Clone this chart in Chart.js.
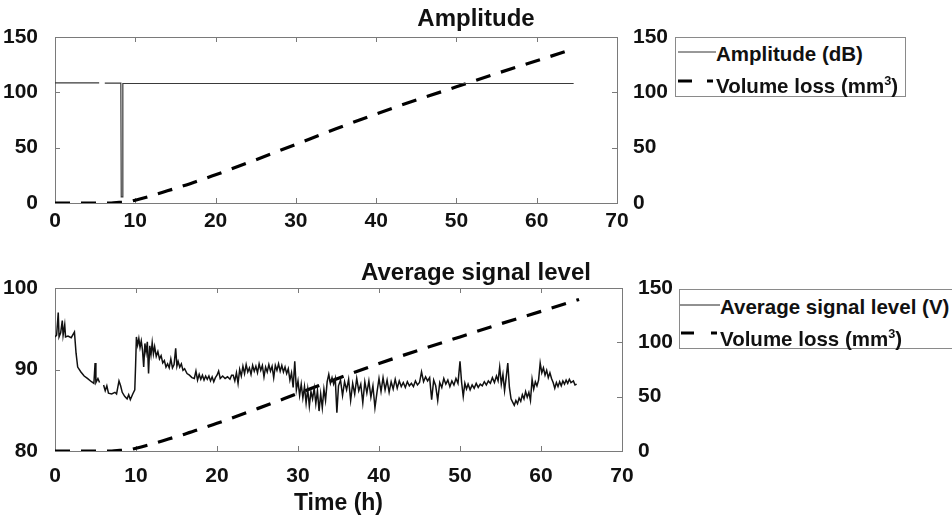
<!DOCTYPE html>
<html>
<head>
<meta charset="utf-8">
<title>Amplitude and average signal level</title>
<script src="https://cdn.jsdelivr.net/npm/chart.js@4.4.0/dist/chart.umd.min.js"></script>
<style>
    body {
        margin: 0;
        width: 952px;
        height: 522px;
        overflow: hidden;
        position: relative;
        background: #fff;
        font-family: 'Liberation Sans', Arial, sans-serif;
    }
    .chart-box {
        position: absolute;
        left: 0;
        width: 952px;
    }
    .legend {
        position: absolute;
        height: 58px;
        border: 1px solid #8a8a8a;
        background: #fff;
        font-weight: bold;
        font-size: 20.5px;
        color: #111;
    }
    .legend .label {
        position: absolute;
        white-space: nowrap;
        line-height: 24px;
    }
    .legend svg {
        position: absolute;
    }
    .legend sup {
        font-size: 0.62em;
        line-height: 0;
        vertical-align: 0.62em;
    }
</style>
</head>
<body>

<div class="chart-box" style="top:0; height:245px;"><canvas id="ampChart"></canvas></div>
<div class="chart-box" style="top:245px; height:277px;"><canvas id="sigChart"></canvas></div>

<div class="legend" style="left:675px; top:37px; width:229px;">
    <svg style="left:2px; top:9px;" width="40" height="10"><line x1="0" y1="5" x2="38" y2="5" stroke="#333" stroke-width="1"/></svg>
    <span class="label" style="left:40px; top:4px;">Amplitude (dB)</span>
    <svg style="left:2px; top:38px;" width="40" height="10"><line x1="0" y1="5" x2="14" y2="5" stroke="#000" stroke-width="3"/><line x1="29" y1="5" x2="35" y2="5" stroke="#000" stroke-width="3"/></svg>
    <span class="label" style="left:40px; top:36px;">Volume loss (mm<sup>3</sup>)</span>
</div>

<div class="legend" style="left:679px; top:289px; width:320px;">
    <svg style="left:0px; top:10px;" width="42" height="10"><line x1="0" y1="5" x2="40" y2="5" stroke="#222" stroke-width="1"/></svg>
    <span class="label" style="left:40px; top:5px;">Average signal level (V)</span>
    <svg style="left:1px; top:38px;" width="42" height="10"><line x1="0" y1="5" x2="13" y2="5" stroke="#000" stroke-width="3"/><line x1="30" y1="5" x2="36" y2="5" stroke="#000" stroke-width="3"/></svg>
    <span class="label" style="left:40px; top:37px;">Volume loss (mm<sup>3</sup>)</span>
</div>

<script>
// Time axis ticks (h)
const timeTicks = [0, 10, 20, 30, 40, 50, 60, 70];

// Amplitude (dB), null = gap in the record
const ampTime  = [0, 5.5, 5.6, 6.2, 8.2, 8.25, 8.4, 8.45, 64.6];
const ampLevel = [108.6, 108.6, null, 108.4, 108.3, 5.5, 5.5, 108.0, 108.0];

// Volume loss (mm3), same curve on both panels
const volTime = [0, 7, 8, 9, 10, 12, 14, 16, 18, 20, 25, 30, 35, 40, 45, 50, 55, 60, 64.7];
const volLoss = [0, 0, 0.5, 1, 2.5, 6.5, 11, 15.5, 20.5, 25.5, 39, 53, 67, 80.5, 93, 105, 117, 128.5, 139.5];

// Average signal level (V)
const sigTime = [
    0.0, 0.2, 0.4, 0.5, 0.7, 0.9, 1.0, 1.2, 1.3, 1.6, 2.0, 2.4, 2.6, 2.8, 3.2, 3.6, 4.0, 4.5, 4.8, 4.95,
    5.05, 5.3, 5.5, 5.7, 6.0, 6.2, 6.4, 6.6, 7.0, 7.4, 7.6, 7.9, 8.1, 8.3, 8.6, 8.9, 9.1, 9.3, 9.6, 9.85,
    9.95, 10.05, 10.2, 10.35, 10.5, 10.65, 10.8, 10.95, 11.1, 11.25, 11.4, 11.55, 11.7, 11.85, 12.0, 12.15, 12.3, 12.5, 12.7, 12.9,
    13.1, 13.3, 13.5, 13.7, 13.9, 14.1, 14.3, 14.5, 14.7, 14.9, 15.05, 15.2, 15.4, 15.6, 15.8, 16.0, 16.3, 16.6, 16.9, 17.2,
    17.4, 17.6, 17.8, 18.0, 18.2, 18.4, 18.6, 18.8, 19.0, 19.2, 19.4, 19.6, 19.8, 20.0, 20.2, 20.4, 20.7, 21.0, 21.3, 21.6,
    21.8, 22.0, 22.2, 22.4, 22.6, 22.8, 23.0, 23.2, 23.4, 23.6, 23.8, 24.0, 24.2, 24.4, 24.6, 24.8, 25.0, 25.2, 25.4, 25.6,
    25.8, 26.0, 26.2, 26.4, 26.6, 26.8, 27.0, 27.2, 27.4, 27.6, 27.8, 28.0, 28.2, 28.4, 28.6, 28.8, 29.0, 29.2, 29.4, 29.6,
    29.8, 30.0, 30.2, 30.4, 30.6, 30.8, 31.0, 31.2, 31.4, 31.6, 31.8, 32.0, 32.2, 32.4, 32.6, 32.8, 33.0, 33.2, 33.4, 33.6,
    33.8, 34.0, 34.2, 34.4, 34.6, 34.8, 35.0, 35.25, 35.5, 35.75, 36.0, 36.25, 36.5, 36.75, 37.0, 37.25, 37.5, 37.75, 38.0, 38.25,
    38.5, 38.75, 39.0, 39.25, 39.5, 39.75, 40.0, 40.25, 40.5, 40.75, 41.0, 41.25, 41.5, 41.75, 42.0, 42.25, 42.5, 42.75, 43.0, 43.25,
    43.5, 43.75, 44.0, 44.25, 44.5, 44.75, 45.0, 45.25, 45.5, 45.75, 46.0, 46.25, 46.5, 46.75, 47.0, 47.25, 47.5, 47.75, 48.0, 48.25,
    48.5, 48.75, 49.0, 49.25, 49.5, 49.75, 50.0, 50.2, 50.4, 50.6, 50.8, 51.0, 51.25, 51.5, 51.75, 52.0, 52.25, 52.5, 52.75, 53.0,
    53.25, 53.5, 53.75, 54.0, 54.25, 54.5, 54.7, 54.9, 55.1, 55.3, 55.5, 55.7, 55.9, 56.1, 56.3, 56.5, 56.7, 56.9, 57.1, 57.3,
    57.5, 57.7, 57.9, 58.1, 58.3, 58.5, 58.7, 58.9, 59.1, 59.3, 59.5, 59.7, 59.9, 60.1, 60.3, 60.5, 60.7, 60.9, 61.1, 61.3,
    61.5, 61.7, 61.9, 62.1, 62.3, 62.5, 62.7, 62.9, 63.1, 63.3, 63.5, 63.7, 64.0, 64.2, 64.4
];
const sigLevel = [
    94.0, 94.2, 97.0, 94.0, 94.5, 96.0, 94.2, 95.5, 94.0, 94.1, 93.9, 94.6, 92.0, 90.3, 89.7, 89.2, 88.9, 88.5, 88.3, 90.8,
    88.4, 88.9, 88.4, null, 88.1, 87.4, 88.0, 87.1, 87.0, 87.2, 87.0, 88.6, 88.0, 87.2, 86.7, 86.4, 86.9, 86.3, 87.0, 87.5,
    90.5, 94.0, 93.0, 93.8, 92.7, 93.5, 92.4, 90.3, 93.2, 92.1, 93.4, 89.5, 92.9, 91.8, 93.3, 91.9, 92.8, 91.6, 92.2, 91.3,
    91.7, 90.8, 91.1, 90.3, 90.7, 90.2, 91.3, 90.2, 90.6, 92.6, 90.4, 91.0, 90.3, 90.7, 89.9, 90.1, 89.5, 89.3, 89.0, 88.9,
    89.8, 88.7, 89.4, 88.8, 89.3, 88.7, 89.2, 88.8, 89.2, 88.6, 89.1, 88.5, 89.0, 89.3, 89.8, 88.9, 89.2, 88.9, 89.1, 88.8,
    89.3, 89.3, 88.6, 89.6, 88.3, 90.0, 89.2, 90.4, 89.5, 90.6, 89.7, 90.2, 89.4, 90.5, 89.8, 90.4, 89.6, 90.7, 89.9, 90.5,
    89.1, 90.3, 89.7, 90.6, 89.8, 90.4, 89.0, 90.5, 89.9, 90.7, 89.8, 90.5, 89.7, 90.3, 89.5, 90.1, 88.7, 89.6, 87.8, 91.0,
    87.5, 88.6, 86.8, 88.2, 86.5, 87.9, 85.9, 87.6, 85.5, 87.3, 86.4, 87.7, 85.8, 87.4, 84.9, 87.0, 85.3, 87.6, 86.2, 88.5,
    89.4, 88.3, 89.0, 88.2, 88.9, 84.7, 88.0, 88.7, 86.8, 88.5, 87.5, 88.8, 86.2, 88.3, 87.0, 88.9, 87.4, 88.2, 85.9, 88.5,
    87.1, 88.6, 86.6, 88.0, 85.3, 87.2, 88.9, 87.3, 89.0, 87.5, 88.7, 87.2, 88.5, 87.6, 88.8, 87.7, 88.6, 87.9, 88.4, 87.8,
    88.5, 88.0, 88.3, 87.9, 88.6, 88.1, 88.4, 89.7, 88.5, 89.1, 88.6, 89.0, 86.3, 88.7, 88.0, 86.2, 88.4, 87.8, 88.9, 88.2,
    88.7, 87.9, 88.6, 88.1, 88.9, 88.3, 91.0, 88.4, 86.7, 88.3, 87.6, 88.2, 87.5, 88.1, 87.7, 88.3, 87.8, 88.2, 88.0, 88.5,
    88.1, 88.6, 88.3, 89.0, 88.4, 89.2, 88.6, 90.3, 88.2, 89.4, 87.4, 89.0, 90.8, 87.8, 86.4, 86.0, 85.6, 86.2, 85.8, 86.5,
    86.1, 86.9, 86.4, 87.3, 86.6, 87.2, 86.2, 88.8, 87.6, 88.5, 88.0, 88.7, 90.8, 89.6, 90.2, 89.3, 89.9, 89.0, 89.6, 88.9,
    88.4, 87.7, 88.4, 87.9, 88.5, 88.0, 88.6, 88.2, 88.7, 88.3, 88.8, 88.4, 88.6, 88.1, 88.2
];

Chart.defaults.font.family = "'Liberation Sans', Arial, sans-serif";
Chart.defaults.font.weight = 700;
Chart.defaults.color = '#111';

// Pair up x and y arrays for a linear x scale
function toPoints(xs, ys) {
    return xs.map((x, i) => ({ x: x, y: ys[i] }));
}

// MATLAB style axes box with ticks pointing inwards
const axesBox = {
    id: 'axesBox',
    beforeDatasetsDraw(chart) {
        const { ctx, chartArea: a, scales } = chart;
        const len = 5;
        ctx.save();
        ctx.strokeStyle = '#7a7a7a';
        ctx.lineWidth = 1;
        ctx.strokeRect(Math.round(a.left) + 0.5, Math.round(a.top) + 0.5,
            Math.round(a.right - a.left), Math.round(a.bottom - a.top));
        ctx.beginPath();
        scales.x.ticks.forEach(t => {
            const px = Math.round(scales.x.getPixelForValue(t.value)) + 0.5;
            ctx.moveTo(px, a.bottom); ctx.lineTo(px, a.bottom - len);
            ctx.moveTo(px, a.top); ctx.lineTo(px, a.top + len);
        });
        scales.y.ticks.forEach(t => {
            const py = Math.round(scales.y.getPixelForValue(t.value)) + 0.5;
            ctx.moveTo(a.left, py); ctx.lineTo(a.left + len, py);
        });
        scales.y2.ticks.forEach(t => {
            const py = Math.round(scales.y2.getPixelForValue(t.value)) + 0.5;
            ctx.moveTo(a.right, py); ctx.lineTo(a.right - len, py);
        });
        ctx.stroke();
        ctx.restore();
    }
};

// Build one panel
function makePanel(canvasId, cfg) {
    const tickFont = () => ({ size: 21, weight: 700, family: "'Liberation Sans', Arial, sans-serif" });
    return new Chart(document.getElementById(canvasId), {
        type: 'line',
        data: {
            datasets: [
                {
                    label: cfg.seriesLabel,
                    data: toPoints(cfg.xs, cfg.ys),
                    yAxisID: 'y',
                    borderColor: cfg.seriesColor,
                    borderWidth: cfg.seriesWidth,
                    pointRadius: 0,
                    tension: 0,
                    spanGaps: false
                },
                {
                    label: 'Volume loss (mm3)',
                    data: toPoints(volTime, volLoss),
                    yAxisID: 'y2',
                    borderColor: '#000',
                    borderWidth: 3.2,
                    borderDash: [15, 11],
                    pointRadius: 0,
                    cubicInterpolationMode: 'monotone'
                }
            ]
        },
        options: {
            responsive: true,
            maintainAspectRatio: false,
            animation: false,
            layout: { padding: 0 },
            plugins: {
                legend: { display: false },
                tooltip: { enabled: false },
                title: {
                    display: true,
                    text: cfg.title,
                    color: '#111',
                    font: { size: 24, weight: 700 },
                    padding: cfg.titlePadding
                }
            },
            scales: {
                x: {
                    type: 'linear',
                    min: 0,
                    max: 70,
                    afterBuildTicks: s => { s.ticks = timeTicks.map(v => ({ value: v })); },
                    grid: { display: false },
                    border: { display: false },
                    ticks: { font: tickFont(), padding: cfg.xTickPad, maxRotation: 0 },
                    title: {
                        display: !!cfg.xTitle,
                        text: cfg.xTitle || '',
                        font: { size: 23, weight: 700 },
                        padding: { top: 0, bottom: 5 }
                    },
                    afterFit: s => { s.height = cfg.xHeight; }
                },
                y: {
                    position: 'left',
                    min: cfg.yMin,
                    max: cfg.yMax,
                    ticks: { stepSize: cfg.yStep, font: tickFont(), padding: 9 },
                    grid: { display: false },
                    border: { display: false },
                    afterFit: s => { s.width = 55; }
                },
                y2: {
                    position: 'right',
                    min: 0,
                    max: 150,
                    ticks: { stepSize: 50, font: tickFont(), padding: 8 },
                    grid: { display: false },
                    border: { display: false },
                    afterFit: s => { s.width = cfg.rightWidth; }
                }
            }
        },
        plugins: [axesBox]
    });
}

makePanel('ampChart', {
    title: 'Amplitude',
    titlePadding: { top: 4.5, bottom: 3.7 },
    seriesLabel: 'Amplitude (dB)',
    xs: ampTime,
    ys: ampLevel,
    seriesColor: '#3a3a3a',
    seriesWidth: 1.2,
    yMin: 0,
    yMax: 150,
    yStep: 50,
    rightWidth: 335,
    xHeight: 42,
    xTickPad: -2
});

makePanel('sigChart', {
    title: 'Average signal level',
    titlePadding: { top: 14, bottom: 0.2 },
    seriesLabel: 'Average signal level (V)',
    xs: sigTime,
    ys: sigLevel,
    seriesColor: '#111',
    seriesWidth: 1.5,
    yMin: 80,
    yMax: 100,
    yStep: 10,
    rightWidth: 330,
    xHeight: 71,
    xTickPad: 5,
    xTitle: 'Time (h)'
});
</script>
</body>
</html>
